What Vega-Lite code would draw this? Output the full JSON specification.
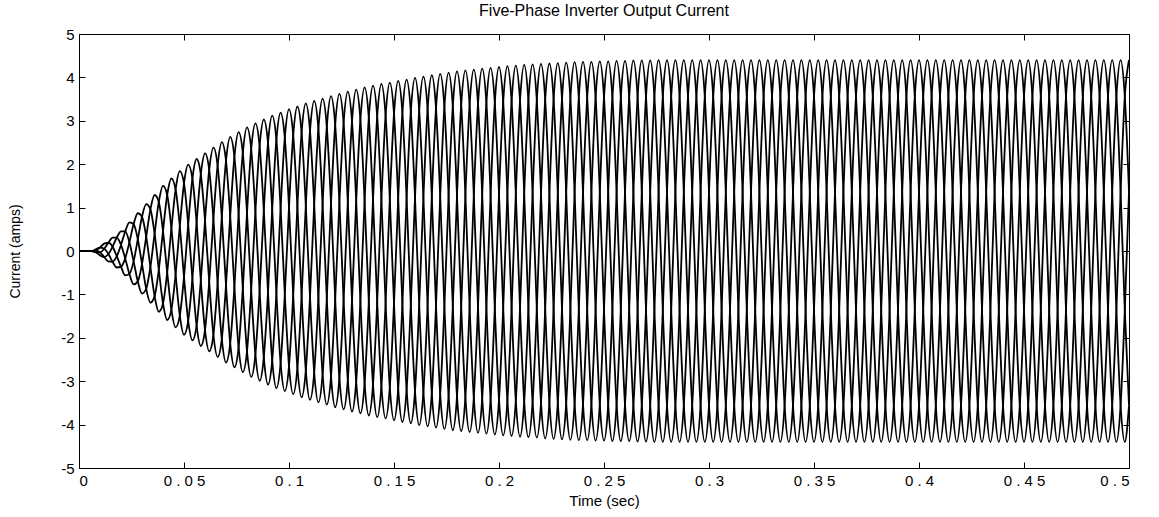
{
"$schema":"https://vega.github.io/schema/vega-lite/v6.json",
"width":1050,"height":434,
"autosize":{"type":"none"},
"padding":{"left":79,"top":34,"right":30,"bottom":49},
"background":"white",
"title":{"text":"Five-Phase Inverter Output Current","font":"Liberation Sans","fontSize":16,"fontWeight":"normal","color":"black","offset":8,"frame":"group","anchor":"middle"},
"config":{"view":{"stroke":"black","strokeWidth":1},
"axis":{"labelFont":"Liberation Sans","titleFont":"Liberation Sans","labelColor":"black","titleColor":"black","tickColor":"black","domain":false,"grid":false,"titleFontWeight":"normal","labelFontSize":15,"titleFontSize":15,"tickWidth":1,"tickSize":6,"offset":-6,"zindex":1}},
"resolve":{"axis":{"x":"independent","y":"independent"}},
"layer":[
{"data":{"values":[
{"t":0,"a":0,"b":0,"c":0,"d":0,"e":0},
{"t":0.002,"a":0,"b":0,"c":0,"d":0,"e":0},
{"t":0.004,"a":0,"b":0,"c":0,"d":0,"e":0},
{"t":0.006,"a":0,"b":0,"c":0,"d":0,"e":0},
{"t":0.008,"a":0.01,"b":0.04,"c":0.01,"d":-0.03,"e":-0.03},
{"t":0.01,"a":-0.03,"b":0.08,"c":0.08,"d":-0.03,"e":-0.1},
{"t":0.012,"a":-0.14,"b":0.05,"c":0.17,"d":0.05,"e":-0.14},
{"t":0.014,"a":-0.24,"b":-0.07,"c":0.19,"d":0.19,"e":-0.07},
{"t":0.016,"a":-0.25,"b":-0.25,"c":0.1,"d":0.31,"e":0.1},
{"t":0.018,"a":-0.12,"b":-0.38,"c":-0.12,"d":0.31,"e":0.31},
{"t":0.02,"a":0.14,"b":-0.36,"c":-0.36,"d":0.14,"e":0.45},
{"t":0.022,"a":0.45,"b":-0.17,"c":-0.56,"d":-0.17,"e":0.45},
{"t":0.024,"a":0.66,"b":0.2,"c":-0.53,"d":-0.53,"e":0.2},
{"t":0.026,"a":0.62,"b":0.62,"c":-0.24,"d":-0.77,"e":-0.24},
{"t":0.028,"a":0.27,"b":0.87,"c":0.27,"d":-0.7,"e":-0.7},
{"t":0.03,"a":-0.3,"b":0.79,"c":0.79,"d":-0.3,"e":-0.98},
{"t":0.032,"a":-0.87,"b":0.33,"c":1.08,"d":0.33,"e":-0.87},
{"t":0.034,"a":-1.19,"b":-0.37,"c":0.96,"d":0.96,"e":-0.37},
{"t":0.036,"a":-1.04,"b":-1.04,"c":0.4,"d":1.29,"e":0.4},
{"t":0.038,"a":-0.43,"b":-1.4,"c":-0.43,"d":1.13,"e":1.13},
{"t":0.04,"a":0.46,"b":-1.21,"c":-1.21,"d":0.46,"e":1.5},
{"t":0.042,"a":1.29,"b":-0.49,"c":-1.59,"d":-0.49,"e":1.29},
{"t":0.044,"a":1.67,"b":0.52,"c":-1.35,"d":-1.35,"e":0.52},
{"t":0.046,"a":1.42,"b":1.42,"c":-0.54,"d":-1.76,"e":-0.54},
{"t":0.048,"a":0.57,"b":1.84,"c":0.57,"d":-1.49,"e":-1.49},
{"t":0.05,"a":-0.6,"b":1.56,"c":1.56,"d":-0.6,"e":-1.93},
{"t":0.052,"a":-1.61,"b":0.61,"c":1.99,"d":0.61,"e":-1.61},
{"t":0.054,"a":-2.06,"b":-0.64,"c":1.67,"d":1.67,"e":-0.64},
{"t":0.056,"a":-1.72,"b":-1.72,"c":0.66,"d":2.12,"e":0.66},
{"t":0.058,"a":-0.68,"b":-2.19,"c":-0.68,"d":1.77,"e":1.77},
{"t":0.06,"a":0.7,"b":-1.82,"c":-1.82,"d":0.7,"e":2.25},
{"t":0.062,"a":1.87,"b":-0.71,"c":-2.31,"d":-0.71,"e":1.87},
{"t":0.064,"a":2.38,"b":0.74,"c":-1.93,"d":-1.93,"e":0.74},
{"t":0.066,"a":1.97,"b":1.97,"c":-0.75,"d":-2.44,"e":-0.75},
{"t":0.068,"a":0.78,"b":2.51,"c":0.78,"d":-2.03,"e":-2.03},
{"t":0.07,"a":-0.79,"b":2.08,"c":2.08,"d":-0.79,"e":-2.57},
{"t":0.072,"a":-2.13,"b":0.81,"c":2.63,"d":0.81,"e":-2.13},
{"t":0.074,"a":-2.68,"b":-0.83,"c":2.17,"d":2.17,"e":-0.83},
{"t":0.076,"a":-2.22,"b":-2.22,"c":0.85,"d":2.74,"e":0.85},
{"t":0.078,"a":-0.86,"b":-2.79,"c":-0.86,"d":2.26,"e":2.26},
{"t":0.08,"a":0.88,"b":-2.31,"c":-2.31,"d":0.88,"e":2.85},
{"t":0.082,"a":2.35,"b":-0.9,"c":-2.9,"d":-0.9,"e":2.35},
{"t":0.084,"a":2.94,"b":0.91,"c":-2.38,"d":-2.38,"e":0.91},
{"t":0.086,"a":2.42,"b":2.42,"c":-0.92,"d":-2.99,"e":-0.92},
{"t":0.088,"a":0.94,"b":3.03,"c":0.94,"d":-2.45,"e":-2.45},
{"t":0.09,"a":-0.95,"b":2.49,"c":2.49,"d":-0.95,"e":-3.08},
{"t":0.092,"a":-2.52,"b":0.96,"c":3.12,"d":0.96,"e":-2.52},
{"t":0.094,"a":-3.16,"b":-0.98,"c":2.56,"d":2.56,"e":-0.98},
{"t":0.096,"a":-2.58,"b":-2.58,"c":0.99,"d":3.19,"e":0.99},
{"t":0.098,"a":-1,"b":-3.23,"c":-1,"d":2.61,"e":2.61},
{"t":0.1,"a":1.01,"b":-2.65,"c":-2.65,"d":1.01,"e":3.27},
{"t":0.102,"a":2.67,"b":-1.02,"c":-3.3,"d":-1.02,"e":2.67},
{"t":0.104,"a":3.33,"b":1.03,"c":-2.69,"d":-2.69,"e":1.03},
{"t":0.106,"a":2.73,"b":2.73,"c":-1.04,"d":-3.37,"e":-1.04},
{"t":0.108,"a":1.05,"b":3.4,"c":1.05,"d":-2.75,"e":-2.75},
{"t":0.11,"a":-1.06,"b":2.77,"c":2.77,"d":-1.06,"e":-3.43},
{"t":0.112,"a":-2.8,"b":1.07,"c":3.46,"d":1.07,"e":-2.8},
{"t":0.114,"a":-3.49,"b":-1.08,"c":2.82,"d":2.82,"e":-1.08},
{"t":0.116,"a":-2.84,"b":-2.84,"c":1.08,"d":3.51,"e":1.08},
{"t":0.118,"a":-1.09,"b":-3.54,"c":-1.09,"d":2.86,"e":2.86},
{"t":0.12,"a":1.1,"b":-2.89,"c":-2.89,"d":1.1,"e":3.57},
{"t":0.122,"a":2.91,"b":-1.11,"c":-3.6,"d":-1.11,"e":2.91},
{"t":0.124,"a":3.62,"b":1.12,"c":-2.93,"d":-2.93,"e":1.12},
{"t":0.126,"a":2.95,"b":2.95,"c":-1.13,"d":-3.65,"e":-1.13},
{"t":0.128,"a":1.13,"b":3.67,"c":1.13,"d":-2.97,"e":-2.97},
{"t":0.13,"a":-1.14,"b":2.99,"c":2.99,"d":-1.14,"e":-3.7},
{"t":0.132,"a":-3.01,"b":1.15,"c":3.72,"d":1.15,"e":-3.01},
{"t":0.134,"a":-3.74,"b":-1.16,"c":3.03,"d":3.03,"e":-1.16},
{"t":0.136,"a":-3.05,"b":-3.05,"c":1.16,"d":3.77,"e":1.16},
{"t":0.138,"a":-1.17,"b":-3.79,"c":-1.17,"d":3.07,"e":3.07},
{"t":0.14,"a":1.18,"b":-3.08,"c":-3.08,"d":1.18,"e":3.81},
{"t":0.142,"a":3.1,"b":-1.18,"c":-3.83,"d":-1.18,"e":3.1},
{"t":0.144,"a":3.85,"b":1.19,"c":-3.11,"d":-3.11,"e":1.19},
{"t":0.146,"a":3.12,"b":3.12,"c":-1.19,"d":-3.86,"e":-1.19},
{"t":0.148,"a":1.2,"b":3.88,"c":1.2,"d":-3.14,"e":-3.14},
{"t":0.15,"a":-1.21,"b":3.16,"c":3.16,"d":-1.21,"e":-3.9},
{"t":0.152,"a":-3.17,"b":1.21,"c":3.92,"d":1.21,"e":-3.17},
{"t":0.154,"a":-3.94,"b":-1.22,"c":3.19,"d":3.19,"e":-1.22},
{"t":0.156,"a":-3.2,"b":-3.2,"c":1.22,"d":3.95,"e":1.22},
{"t":0.158,"a":-1.23,"b":-3.97,"c":-1.23,"d":3.21,"e":3.21},
{"t":0.16,"a":1.23,"b":-3.23,"c":-3.23,"d":1.23,"e":3.99},
{"t":0.162,"a":3.24,"b":-1.24,"c":-4.01,"d":-1.24,"e":3.24},
{"t":0.164,"a":4.02,"b":1.24,"c":-3.25,"d":-3.25,"e":1.24},
{"t":0.166,"a":3.27,"b":3.27,"c":-1.25,"d":-4.04,"e":-1.25},
{"t":0.168,"a":1.25,"b":4.05,"c":1.25,"d":-3.28,"e":-3.28},
{"t":0.17,"a":-1.26,"b":3.29,"c":3.29,"d":-1.26,"e":-4.07},
{"t":0.172,"a":-3.3,"b":1.26,"c":4.08,"d":1.26,"e":-3.3},
{"t":0.174,"a":-4.1,"b":-1.27,"c":3.32,"d":3.32,"e":-1.27},
{"t":0.176,"a":-3.33,"b":-3.33,"c":1.27,"d":4.11,"e":1.27},
{"t":0.178,"a":-1.28,"b":-4.13,"c":-1.28,"d":3.34,"e":3.34},
{"t":0.18,"a":1.28,"b":-3.35,"c":-3.35,"d":1.28,"e":4.14},
{"t":0.182,"a":3.36,"b":-1.28,"c":-4.15,"d":-1.28,"e":3.36},
{"t":0.184,"a":4.16,"b":1.29,"c":-3.37,"d":-3.37,"e":1.29},
{"t":0.186,"a":3.37,"b":3.37,"c":-1.29,"d":-4.17,"e":-1.29},
{"t":0.188,"a":1.29,"b":4.18,"c":1.29,"d":-3.38,"e":-3.38},
{"t":0.19,"a":-1.29,"b":3.39,"c":3.39,"d":-1.29,"e":-4.19},
{"t":0.192,"a":-3.4,"b":1.3,"c":4.2,"d":1.3,"e":-3.4},
{"t":0.194,"a":-4.21,"b":-1.3,"c":3.41,"d":3.41,"e":-1.3},
{"t":0.196,"a":-3.41,"b":-3.41,"c":1.3,"d":4.22,"e":1.3},
{"t":0.198,"a":-1.31,"b":-4.23,"c":-1.31,"d":3.42,"e":3.42},
{"t":0.2,"a":1.31,"b":-3.43,"c":-3.43,"d":1.31,"e":4.24},
{"t":0.202,"a":3.44,"b":-1.31,"c":-4.25,"d":-1.31,"e":3.44},
{"t":0.204,"a":4.26,"b":1.32,"c":-3.45,"d":-3.45,"e":1.32},
{"t":0.206,"a":3.45,"b":3.45,"c":-1.32,"d":-4.26,"e":-1.32},
{"t":0.208,"a":1.32,"b":4.27,"c":1.32,"d":-3.45,"e":-3.45},
{"t":0.21,"a":-1.32,"b":3.46,"c":3.46,"d":-1.32,"e":-4.28},
{"t":0.212,"a":-3.47,"b":1.33,"c":4.29,"d":1.33,"e":-3.47},
{"t":0.214,"a":-4.29,"b":-1.33,"c":3.47,"d":3.47,"e":-1.33},
{"t":0.216,"a":-3.48,"b":-3.48,"c":1.33,"d":4.3,"e":1.33},
{"t":0.218,"a":-1.33,"b":-4.3,"c":-1.33,"d":3.48,"e":3.48},
{"t":0.22,"a":1.33,"b":-3.49,"c":-3.49,"d":1.33,"e":4.31},
{"t":0.222,"a":3.49,"b":-1.33,"c":-4.32,"d":-1.33,"e":3.49},
{"t":0.224,"a":4.32,"b":1.33,"c":-3.49,"d":-3.49,"e":1.33},
{"t":0.226,"a":3.5,"b":3.5,"c":-1.34,"d":-4.33,"e":-1.34},
{"t":0.228,"a":1.34,"b":4.33,"c":1.34,"d":-3.5,"e":-3.5},
{"t":0.23,"a":-1.34,"b":3.51,"c":3.51,"d":-1.34,"e":-4.34},
{"t":0.232,"a":-3.51,"b":1.34,"c":4.34,"d":1.34,"e":-3.51},
{"t":0.234,"a":-4.35,"b":-1.34,"c":3.52,"d":3.52,"e":-1.34},
{"t":0.236,"a":-3.52,"b":-3.52,"c":1.34,"d":4.35,"e":1.34},
{"t":0.238,"a":-1.35,"b":-4.36,"c":-1.35,"d":3.53,"e":3.53},
{"t":0.24,"a":1.35,"b":-3.53,"c":-3.53,"d":1.35,"e":4.36},
{"t":0.242,"a":3.53,"b":-1.35,"c":-4.36,"d":-1.35,"e":3.53},
{"t":0.244,"a":4.36,"b":1.35,"c":-3.53,"d":-3.53,"e":1.35},
{"t":0.246,"a":3.54,"b":3.54,"c":-1.35,"d":-4.37,"e":-1.35},
{"t":0.248,"a":1.35,"b":4.37,"c":1.35,"d":-3.54,"e":-3.54},
{"t":0.25,"a":-1.35,"b":3.54,"c":3.54,"d":-1.35,"e":-4.37},
{"t":0.252,"a":-3.54,"b":1.35,"c":4.37,"d":1.35,"e":-3.54},
{"t":0.254,"a":-4.38,"b":-1.35,"c":3.54,"d":3.54,"e":-1.35},
{"t":0.256,"a":-3.54,"b":-3.54,"c":1.35,"d":4.38,"e":1.35},
{"t":0.258,"a":-1.35,"b":-4.38,"c":-1.35,"d":3.54,"e":3.54},
{"t":0.26,"a":1.35,"b":-3.54,"c":-3.54,"d":1.35,"e":4.38},
{"t":0.262,"a":3.54,"b":-1.35,"c":-4.38,"d":-1.35,"e":3.54},
{"t":0.264,"a":4.39,"b":1.36,"c":-3.55,"d":-3.55,"e":1.36},
{"t":0.266,"a":3.55,"b":3.55,"c":-1.36,"d":-4.39,"e":-1.36},
{"t":0.268,"a":1.36,"b":4.39,"c":1.36,"d":-3.55,"e":-3.55},
{"t":0.27,"a":-1.36,"b":3.55,"c":3.55,"d":-1.36,"e":-4.39},
{"t":0.272,"a":-3.55,"b":1.36,"c":4.39,"d":1.36,"e":-3.55},
{"t":0.274,"a":-4.4,"b":-1.36,"c":3.56,"d":3.56,"e":-1.36},
{"t":0.276,"a":-3.56,"b":-3.56,"c":1.36,"d":4.4,"e":1.36},
{"t":0.278,"a":-1.36,"b":-4.4,"c":-1.36,"d":3.56,"e":3.56},
{"t":0.28,"a":1.36,"b":-3.56,"c":-3.56,"d":1.36,"e":4.4},
{"t":0.282,"a":3.56,"b":-1.36,"c":-4.4,"d":-1.36,"e":3.56},
{"t":0.284,"a":4.4,"b":1.36,"c":-3.56,"d":-3.56,"e":1.36},
{"t":0.286,"a":3.56,"b":3.56,"c":-1.36,"d":-4.4,"e":-1.36},
{"t":0.288,"a":1.36,"b":4.4,"c":1.36,"d":-3.56,"e":-3.56},
{"t":0.29,"a":-1.36,"b":3.56,"c":3.56,"d":-1.36,"e":-4.4},
{"t":0.292,"a":-3.56,"b":1.36,"c":4.4,"d":1.36,"e":-3.56},
{"t":0.294,"a":-4.4,"b":-1.36,"c":3.56,"d":3.56,"e":-1.36},
{"t":0.296,"a":-3.56,"b":-3.56,"c":1.36,"d":4.4,"e":1.36},
{"t":0.298,"a":-1.36,"b":-4.4,"c":-1.36,"d":3.56,"e":3.56},
{"t":0.3,"a":1.36,"b":-3.56,"c":-3.56,"d":1.36,"e":4.4},
{"t":0.302,"a":3.56,"b":-1.36,"c":-4.4,"d":-1.36,"e":3.56},
{"t":0.304,"a":4.4,"b":1.36,"c":-3.56,"d":-3.56,"e":1.36},
{"t":0.306,"a":3.56,"b":3.56,"c":-1.36,"d":-4.4,"e":-1.36},
{"t":0.308,"a":1.36,"b":4.4,"c":1.36,"d":-3.56,"e":-3.56},
{"t":0.31,"a":-1.36,"b":3.56,"c":3.56,"d":-1.36,"e":-4.4},
{"t":0.312,"a":-3.56,"b":1.36,"c":4.4,"d":1.36,"e":-3.56},
{"t":0.314,"a":-4.4,"b":-1.36,"c":3.56,"d":3.56,"e":-1.36},
{"t":0.316,"a":-3.56,"b":-3.56,"c":1.36,"d":4.4,"e":1.36},
{"t":0.318,"a":-1.36,"b":-4.4,"c":-1.36,"d":3.56,"e":3.56},
{"t":0.32,"a":1.36,"b":-3.56,"c":-3.56,"d":1.36,"e":4.4},
{"t":0.322,"a":3.56,"b":-1.36,"c":-4.4,"d":-1.36,"e":3.56},
{"t":0.324,"a":4.4,"b":1.36,"c":-3.56,"d":-3.56,"e":1.36},
{"t":0.326,"a":3.56,"b":3.56,"c":-1.36,"d":-4.4,"e":-1.36},
{"t":0.328,"a":1.36,"b":4.4,"c":1.36,"d":-3.56,"e":-3.56},
{"t":0.33,"a":-1.36,"b":3.56,"c":3.56,"d":-1.36,"e":-4.4},
{"t":0.332,"a":-3.56,"b":1.36,"c":4.4,"d":1.36,"e":-3.56},
{"t":0.334,"a":-4.4,"b":-1.36,"c":3.56,"d":3.56,"e":-1.36},
{"t":0.336,"a":-3.56,"b":-3.56,"c":1.36,"d":4.4,"e":1.36},
{"t":0.338,"a":-1.36,"b":-4.4,"c":-1.36,"d":3.56,"e":3.56},
{"t":0.34,"a":1.36,"b":-3.56,"c":-3.56,"d":1.36,"e":4.4},
{"t":0.342,"a":3.56,"b":-1.36,"c":-4.4,"d":-1.36,"e":3.56},
{"t":0.344,"a":4.4,"b":1.36,"c":-3.56,"d":-3.56,"e":1.36},
{"t":0.346,"a":3.56,"b":3.56,"c":-1.36,"d":-4.4,"e":-1.36},
{"t":0.348,"a":1.36,"b":4.4,"c":1.36,"d":-3.56,"e":-3.56},
{"t":0.35,"a":-1.36,"b":3.56,"c":3.56,"d":-1.36,"e":-4.4},
{"t":0.352,"a":-3.56,"b":1.36,"c":4.4,"d":1.36,"e":-3.56},
{"t":0.354,"a":-4.4,"b":-1.36,"c":3.56,"d":3.56,"e":-1.36},
{"t":0.356,"a":-3.56,"b":-3.56,"c":1.36,"d":4.4,"e":1.36},
{"t":0.358,"a":-1.36,"b":-4.4,"c":-1.36,"d":3.56,"e":3.56},
{"t":0.36,"a":1.36,"b":-3.56,"c":-3.56,"d":1.36,"e":4.4},
{"t":0.362,"a":3.56,"b":-1.36,"c":-4.4,"d":-1.36,"e":3.56},
{"t":0.364,"a":4.4,"b":1.36,"c":-3.56,"d":-3.56,"e":1.36},
{"t":0.366,"a":3.56,"b":3.56,"c":-1.36,"d":-4.4,"e":-1.36},
{"t":0.368,"a":1.36,"b":4.4,"c":1.36,"d":-3.56,"e":-3.56},
{"t":0.37,"a":-1.36,"b":3.56,"c":3.56,"d":-1.36,"e":-4.4},
{"t":0.372,"a":-3.56,"b":1.36,"c":4.4,"d":1.36,"e":-3.56},
{"t":0.374,"a":-4.4,"b":-1.36,"c":3.56,"d":3.56,"e":-1.36},
{"t":0.376,"a":-3.56,"b":-3.56,"c":1.36,"d":4.4,"e":1.36},
{"t":0.378,"a":-1.36,"b":-4.4,"c":-1.36,"d":3.56,"e":3.56},
{"t":0.38,"a":1.36,"b":-3.56,"c":-3.56,"d":1.36,"e":4.4},
{"t":0.382,"a":3.56,"b":-1.36,"c":-4.4,"d":-1.36,"e":3.56},
{"t":0.384,"a":4.4,"b":1.36,"c":-3.56,"d":-3.56,"e":1.36},
{"t":0.386,"a":3.56,"b":3.56,"c":-1.36,"d":-4.4,"e":-1.36},
{"t":0.388,"a":1.36,"b":4.4,"c":1.36,"d":-3.56,"e":-3.56},
{"t":0.39,"a":-1.36,"b":3.56,"c":3.56,"d":-1.36,"e":-4.4},
{"t":0.392,"a":-3.56,"b":1.36,"c":4.4,"d":1.36,"e":-3.56},
{"t":0.394,"a":-4.4,"b":-1.36,"c":3.56,"d":3.56,"e":-1.36},
{"t":0.396,"a":-3.56,"b":-3.56,"c":1.36,"d":4.4,"e":1.36},
{"t":0.398,"a":-1.36,"b":-4.4,"c":-1.36,"d":3.56,"e":3.56},
{"t":0.4,"a":1.36,"b":-3.56,"c":-3.56,"d":1.36,"e":4.4},
{"t":0.402,"a":3.56,"b":-1.36,"c":-4.4,"d":-1.36,"e":3.56},
{"t":0.404,"a":4.4,"b":1.36,"c":-3.56,"d":-3.56,"e":1.36},
{"t":0.406,"a":3.56,"b":3.56,"c":-1.36,"d":-4.4,"e":-1.36},
{"t":0.408,"a":1.36,"b":4.4,"c":1.36,"d":-3.56,"e":-3.56},
{"t":0.41,"a":-1.36,"b":3.56,"c":3.56,"d":-1.36,"e":-4.4},
{"t":0.412,"a":-3.56,"b":1.36,"c":4.4,"d":1.36,"e":-3.56},
{"t":0.414,"a":-4.4,"b":-1.36,"c":3.56,"d":3.56,"e":-1.36},
{"t":0.416,"a":-3.56,"b":-3.56,"c":1.36,"d":4.4,"e":1.36},
{"t":0.418,"a":-1.36,"b":-4.4,"c":-1.36,"d":3.56,"e":3.56},
{"t":0.42,"a":1.36,"b":-3.56,"c":-3.56,"d":1.36,"e":4.4},
{"t":0.422,"a":3.56,"b":-1.36,"c":-4.4,"d":-1.36,"e":3.56},
{"t":0.424,"a":4.4,"b":1.36,"c":-3.56,"d":-3.56,"e":1.36},
{"t":0.426,"a":3.56,"b":3.56,"c":-1.36,"d":-4.4,"e":-1.36},
{"t":0.428,"a":1.36,"b":4.4,"c":1.36,"d":-3.56,"e":-3.56},
{"t":0.43,"a":-1.36,"b":3.56,"c":3.56,"d":-1.36,"e":-4.4},
{"t":0.432,"a":-3.56,"b":1.36,"c":4.4,"d":1.36,"e":-3.56},
{"t":0.434,"a":-4.4,"b":-1.36,"c":3.56,"d":3.56,"e":-1.36},
{"t":0.436,"a":-3.56,"b":-3.56,"c":1.36,"d":4.4,"e":1.36},
{"t":0.438,"a":-1.36,"b":-4.4,"c":-1.36,"d":3.56,"e":3.56},
{"t":0.44,"a":1.36,"b":-3.56,"c":-3.56,"d":1.36,"e":4.4},
{"t":0.442,"a":3.56,"b":-1.36,"c":-4.4,"d":-1.36,"e":3.56},
{"t":0.444,"a":4.4,"b":1.36,"c":-3.56,"d":-3.56,"e":1.36},
{"t":0.446,"a":3.56,"b":3.56,"c":-1.36,"d":-4.4,"e":-1.36},
{"t":0.448,"a":1.36,"b":4.4,"c":1.36,"d":-3.56,"e":-3.56},
{"t":0.45,"a":-1.36,"b":3.56,"c":3.56,"d":-1.36,"e":-4.4},
{"t":0.452,"a":-3.56,"b":1.36,"c":4.4,"d":1.36,"e":-3.56},
{"t":0.454,"a":-4.4,"b":-1.36,"c":3.56,"d":3.56,"e":-1.36},
{"t":0.456,"a":-3.56,"b":-3.56,"c":1.36,"d":4.4,"e":1.36},
{"t":0.458,"a":-1.36,"b":-4.4,"c":-1.36,"d":3.56,"e":3.56},
{"t":0.46,"a":1.36,"b":-3.56,"c":-3.56,"d":1.36,"e":4.4},
{"t":0.462,"a":3.56,"b":-1.36,"c":-4.4,"d":-1.36,"e":3.56},
{"t":0.464,"a":4.4,"b":1.36,"c":-3.56,"d":-3.56,"e":1.36},
{"t":0.466,"a":3.56,"b":3.56,"c":-1.36,"d":-4.4,"e":-1.36},
{"t":0.468,"a":1.36,"b":4.4,"c":1.36,"d":-3.56,"e":-3.56},
{"t":0.47,"a":-1.36,"b":3.56,"c":3.56,"d":-1.36,"e":-4.4},
{"t":0.472,"a":-3.56,"b":1.36,"c":4.4,"d":1.36,"e":-3.56},
{"t":0.474,"a":-4.4,"b":-1.36,"c":3.56,"d":3.56,"e":-1.36},
{"t":0.476,"a":-3.56,"b":-3.56,"c":1.36,"d":4.4,"e":1.36},
{"t":0.478,"a":-1.36,"b":-4.4,"c":-1.36,"d":3.56,"e":3.56},
{"t":0.48,"a":1.36,"b":-3.56,"c":-3.56,"d":1.36,"e":4.4},
{"t":0.482,"a":3.56,"b":-1.36,"c":-4.4,"d":-1.36,"e":3.56},
{"t":0.484,"a":4.4,"b":1.36,"c":-3.56,"d":-3.56,"e":1.36},
{"t":0.486,"a":3.56,"b":3.56,"c":-1.36,"d":-4.4,"e":-1.36},
{"t":0.488,"a":1.36,"b":4.4,"c":1.36,"d":-3.56,"e":-3.56},
{"t":0.49,"a":-1.36,"b":3.56,"c":3.56,"d":-1.36,"e":-4.4},
{"t":0.492,"a":-3.56,"b":1.36,"c":4.4,"d":1.36,"e":-3.56},
{"t":0.494,"a":-4.4,"b":-1.36,"c":3.56,"d":3.56,"e":-1.36},
{"t":0.496,"a":-3.56,"b":-3.56,"c":1.36,"d":4.4,"e":1.36},
{"t":0.498,"a":-1.36,"b":-4.4,"c":-1.36,"d":3.56,"e":3.56},
{"t":0.5,"a":1.36,"b":-3.56,"c":-3.56,"d":1.36,"e":4.4}
]},
"transform":[{"fold":["a","b","c","d","e"],"as":["phase","i"]}],
"mark":{"type":"line","color":"black","strokeWidth":1.8,"clip":true,"interpolate":"monotone"},
"encoding":{
"x":{"field":"t","type":"quantitative","scale":{"domain":[0,0.5],"nice":false,"zero":false},
"axis":{"orient":"bottom","values":[0,0.05,0.1,0.15,0.2,0.25,0.3,0.35,0.4,0.45,0.5],"labelExpr":"join(split(toString(datum.value),''),' ')","labelPadding":5,"title":"Time (sec)","titlePadding":5}},
"y":{"field":"i","type":"quantitative","scale":{"domain":[-5,5],"nice":false,"zero":false},
"axis":{"orient":"left","values":[-5,-4,-3,-2,-1,0,1,2,3,4,5],"labelExpr":"toString(datum.value)","labelPadding":5,"title":"Current (amps)","titlePadding":38,"titleFontSize":14}},
"detail":{"field":"phase","type":"nominal"}
}},
{"data":{"values":[{"t":0,"i":0}]},
"mark":{"type":"point","opacity":0},
"encoding":{
"x":{"field":"t","type":"quantitative","scale":{"domain":[0,0.5],"nice":false,"zero":false},
"axis":{"orient":"top","values":[0,0.05,0.1,0.15,0.2,0.25,0.3,0.35,0.4,0.45,0.5],"labels":false,"title":null}},
"y":{"field":"i","type":"quantitative","scale":{"domain":[-5,5],"nice":false,"zero":false},
"axis":{"orient":"right","values":[-5,-4,-3,-2,-1,0,1,2,3,4,5],"labels":false,"title":null}}
}}
]
}
